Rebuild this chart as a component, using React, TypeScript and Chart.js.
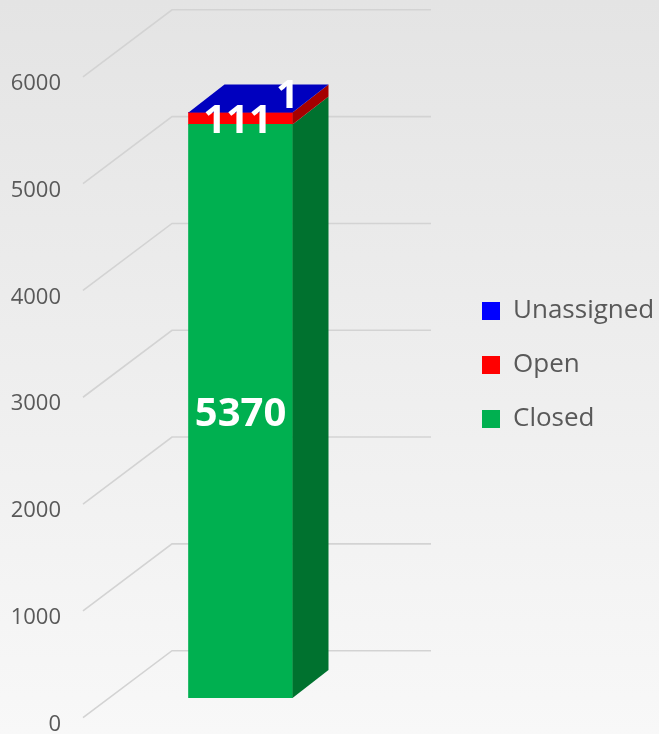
import React, { useEffect, useRef } from "react";
import { Chart, registerables } from "chart.js";

Chart.register(...registerables);

// ---- data ----
const categories = ["Tickets"];
const seriesNames = ["Closed", "Open", "Unassigned"];
const closedValues = [5370];
const openValues = [111];
const unassignedValues = [1];
const yTickValues = [0, 1000, 2000, 3000, 4000, 5000, 6000];
const yTickLabels = ["0", "1000", "2000", "3000", "4000", "5000", "6000"];

// ---- styles ----
const FRONT_COLORS = ["#00b050", "#ff0000", "#0000ff"];
const SIDE_COLORS = ["#00722f", "#a50000", "#0000a0"];
const TOP_COLOR = "#0000bf";
const FONT = "'Open Sans', 'Noto Sans', sans-serif";
// oblique projection offsets
const DEPTH_DX = 36;
const DEPTH_DY = -28;
// label position tweaks (dx, dy) per dataset
const LABEL_SHIFT: [number, number][] = [
  [0, 3],
  [-3, 3.5],
  [47, -16],
];

const bgPlugin = {
  id: "bg",
  beforeDraw(chart: any) {
    const { ctx, width, height } = chart;
    const g = ctx.createLinearGradient(0, 0, 0, height);
    g.addColorStop(0, "#e4e4e4");
    g.addColorStop(1, "#f8f8f8");
    ctx.save();
    ctx.fillStyle = g;
    ctx.fillRect(0, 0, width, height);
    ctx.restore();
  },
};

const gridPlugin = {
  id: "grid3d",
  beforeDatasetsDraw(chart: any) {
    const { ctx } = chart;
    const y = chart.scales.y;
    ctx.save();
    ctx.strokeStyle = "#d3d3d3";
    ctx.lineWidth = 1.6;
    for (const t of y.ticks) {
      const p = y.getPixelForValue(t.value);
      ctx.beginPath();
      ctx.moveTo(83, p + 19.7);
      ctx.lineTo(172, p - 47.3);
      ctx.lineTo(431, p - 47.3);
      ctx.stroke();
    }
    ctx.restore();
  },
};

const box3dPlugin = {
  id: "box3d",
  afterDatasetsDraw(chart: any) {
    const { ctx } = chart;
    const n = chart.data.datasets.length;
    ctx.save();
    for (let i = 0; i < n; i++) {
      const meta = chart.getDatasetMeta(i);
      meta.data.forEach((el: any) => {
        const { x, y, base, width } = el.getProps(["x", "y", "base", "width"], true);
        const right = x + width / 2;
        const left = x - width / 2;
        ctx.fillStyle = SIDE_COLORS[i];
        ctx.beginPath();
        ctx.moveTo(right, y);
        ctx.lineTo(right + DEPTH_DX, y + DEPTH_DY);
        ctx.lineTo(right + DEPTH_DX, base + DEPTH_DY);
        ctx.lineTo(right, base);
        ctx.closePath();
        ctx.fill();
        if (i === n - 1) {
          ctx.fillStyle = TOP_COLOR;
          ctx.beginPath();
          ctx.moveTo(left, y);
          ctx.lineTo(right, y);
          ctx.lineTo(right + DEPTH_DX, y + DEPTH_DY);
          ctx.lineTo(left + DEPTH_DX, y + DEPTH_DY);
          ctx.closePath();
          ctx.fill();
        }
      });
    }
    ctx.fillStyle = "#ffffff";
    ctx.font = `bold 40px ${FONT}`;
    ctx.textAlign = "center";
    ctx.textBaseline = "middle";
    for (let i = 0; i < n; i++) {
      const meta = chart.getDatasetMeta(i);
      const ds = chart.data.datasets[i];
      meta.data.forEach((el: any, j: number) => {
        const { x, y, base } = el.getProps(["x", "y", "base"], true);
        const [dx, dy] = LABEL_SHIFT[i];
        let cy = (y + base) / 2;
        if (i === n - 1) cy = y;
        ctx.fillText(String(ds.data[j].y), x + dx, cy + dy);
      });
    }
    ctx.restore();
  },
};

export default function App() {
  const ref = useRef<HTMLCanvasElement>(null);
  useEffect(() => {
    const canvas = ref.current!;
    const values = [closedValues, openValues, unassignedValues];
    const chart = new Chart(canvas, {
      type: "bar",
      data: {
        labels: categories,
        datasets: seriesNames.map((name, i) => ({
          label: name,
          data: values[i].map((v, j) => ({ x: j, y: v })),
          backgroundColor: FRONT_COLORS[i],
          borderWidth: 0,
          barThickness: 104,
        })),
      },
      options: {
        animation: false,
        responsive: false,
        layout: { padding: { top: 32, bottom: 36, left: 0, right: 0 } },
        scales: {
          x: {
            type: "linear",
            display: false,
            stacked: true,
            min: -0.43003,
            max: 0.56997,
          },
          y: {
            stacked: true,
            min: 0,
            max: 6235,
            afterFit: (s: any) => {
              s.width = 70;
            },
            afterBuildTicks: (s: any) => {
              s.ticks = yTickValues.map((v) => ({ value: v }));
            },
            grid: { display: false, drawTicks: false },
            border: { display: false },
            ticks: {
              padding: 9,
              labelOffset: 26.5,
              color: "#595959",
              font: { family: FONT, size: 22 },
              callback: (_v: any, idx: number) => yTickLabels[idx],
            },
          },
        },
        plugins: {
          legend: {
            position: "right",
            reverse: true,
            maxWidth: 205,
            labels: {
              boxWidth: 18,
              boxHeight: 18,
              padding: 28,
              color: "#595959",
              font: { family: FONT, size: 26 },
            },
          },
          tooltip: { enabled: false },
        },
      },
      plugins: [bgPlugin, gridPlugin, box3dPlugin],
    } as any);
    return () => chart.destroy();
  }, []);
  return (
    <div style={{ position: "absolute", left: 0, top: 0, width: 659, height: 734 }}>
      <canvas ref={ref} width={659} height={734} style={{ display: "block" }} />
    </div>
  );
}
